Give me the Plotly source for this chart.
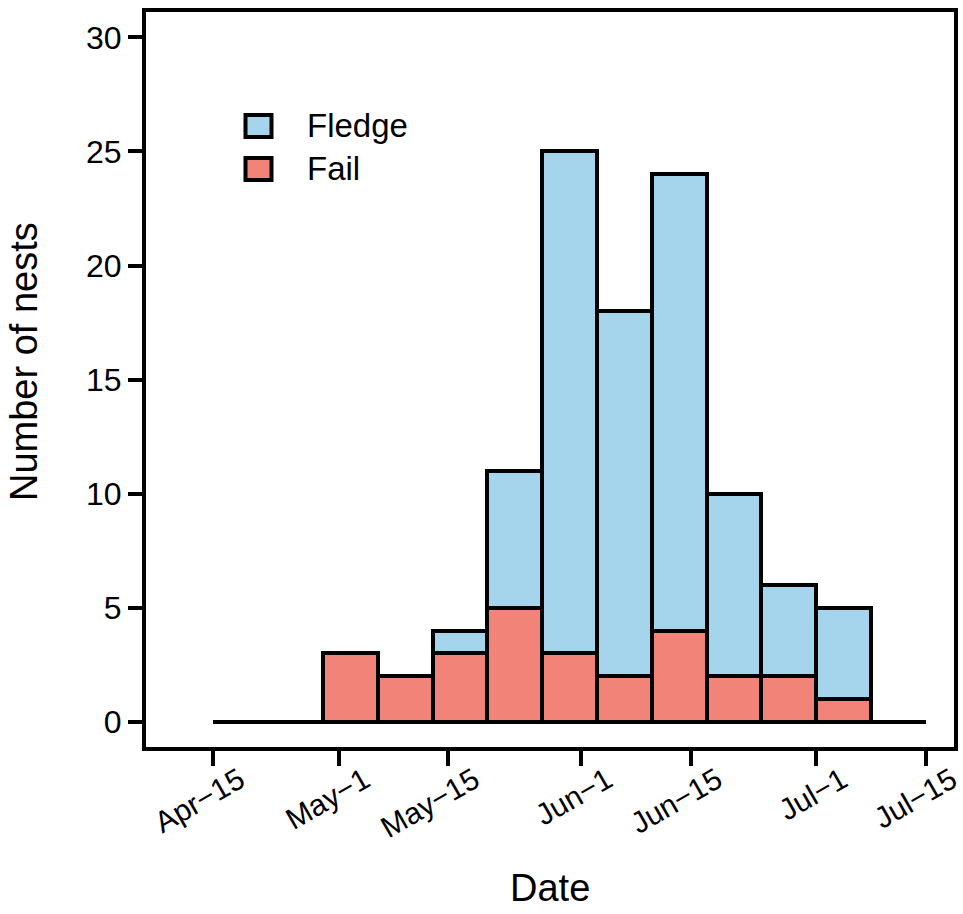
import pandas as pd
import plotly.graph_objects as go

# ---- data (weekly bins, start date of each bin) ----
bin_start = ["2018-04-15", "2018-04-22", "2018-04-29", "2018-05-06", "2018-05-13",
             "2018-05-20", "2018-05-27", "2018-06-03", "2018-06-10", "2018-06-17",
             "2018-06-24", "2018-07-01", "2018-07-08"]
fledge = [0, 0, 0, 0, 1, 6, 22, 16, 20, 8, 4, 4, 0]
fail = [0, 0, 3, 2, 3, 5, 3, 2, 4, 2, 2, 1, 0]
total = [a + b for a, b in zip(fledge, fail)]

tick_dates = ["2018-04-15", "2018-05-01", "2018-05-15", "2018-06-01",
              "2018-06-15", "2018-07-01", "2018-07-15"]
tick_labels = ["Apr\u221215", "May\u22121", "May\u221215", "Jun\u22121",
               "Jun\u221215", "Jul\u22121", "Jul\u221215"]
y_ticks = [0, 5, 10, 15, 20, 25, 30]

# ---- style ----
BLUE = "rgb(165,213,236)"
RED = "rgb(241,131,121)"
FONT = "Liberation Sans, Arial, sans-serif"
W, H = 963, 914
L, R, T, B = 146, 9, 12, 167
PW, PH = W - L - R, H - T - B

week_ms = 7 * 24 * 3600 * 1000

fig = go.Figure()
fig.add_trace(go.Bar(x=bin_start, y=total, width=week_ms, offset=0, name="Fledge",
                     marker=dict(color=BLUE, line=dict(color="black", width=4)),
                     showlegend=False))
fig.add_trace(go.Bar(x=bin_start, y=fail, width=week_ms, offset=0, name="Fail",
                     marker=dict(color=RED, line=dict(color="black", width=4)),
                     showlegend=False))

x0 = pd.Timestamp("2018-04-15") - pd.Timedelta(days=8.6)
x1 = pd.Timestamp("2018-04-15") + pd.Timedelta(days=94.61)

fig.update_layout(
    width=W, height=H,
    margin=dict(l=L, r=R, t=T, b=B, pad=0, autoexpand=False),
    barmode="overlay", bargap=0,
    paper_bgcolor="white", plot_bgcolor="white",
    font=dict(family=FONT, size=32, color="black"),
    xaxis=dict(type="date", range=[x0, x1], tickmode="array", automargin=False,
               tickvals=tick_dates, ticktext=tick_labels, tickangle=-30,
               ticks="outside", ticklen=15, tickwidth=4, tickcolor="black",
               ticklabelshift=26, ticklabelstandoff=-15,
               showline=True, linewidth=4, linecolor="black", mirror=True,
               showgrid=False, zeroline=False, tickfont=dict(size=30)),
    yaxis=dict(range=[-1.1, 31.11], tickmode="array", tickvals=y_ticks, automargin=False,
               ticks="outside", ticklen=14, tickwidth=4, tickcolor="black",
               showline=True, linewidth=4, linecolor="black", mirror=True,
               showgrid=False, zeroline=False, tickfont=dict(size=32)),
)

def px(xp):
    return (xp - L) / PW

def py(yp):
    return (H - B - yp) / PH

# axis titles
fig.add_annotation(text="Number of nests", xref="paper", yref="paper",
                   x=px(24), y=py(362), textangle=-90, showarrow=False,
                   font=dict(size=38), xanchor="center", yanchor="middle")
fig.add_annotation(text="Date", xref="paper", yref="paper",
                   x=px(550), y=py(888), showarrow=False,
                   font=dict(size=38), xanchor="center", yanchor="middle")

# legend
legend_items = [("Fledge", BLUE, 115, 137, 126), ("Fail", RED, 158, 180, 169)]
for name, col, ytop, ybot, ytext in legend_items:
    fig.add_shape(type="rect", xref="paper", yref="paper",
                  x0=px(245.5), x1=px(271.5), y0=py(ybot), y1=py(ytop),
                  fillcolor=col, line=dict(color="black", width=4))
    fig.add_annotation(text=name, xref="paper", yref="paper",
                       x=px(305), y=py(ytext), showarrow=False,
                       xanchor="left", yanchor="middle", font=dict(size=33))

fig.write_html("out.html", config={"displayModeBar": False},
               post_script="document.body.style.margin='0';")
